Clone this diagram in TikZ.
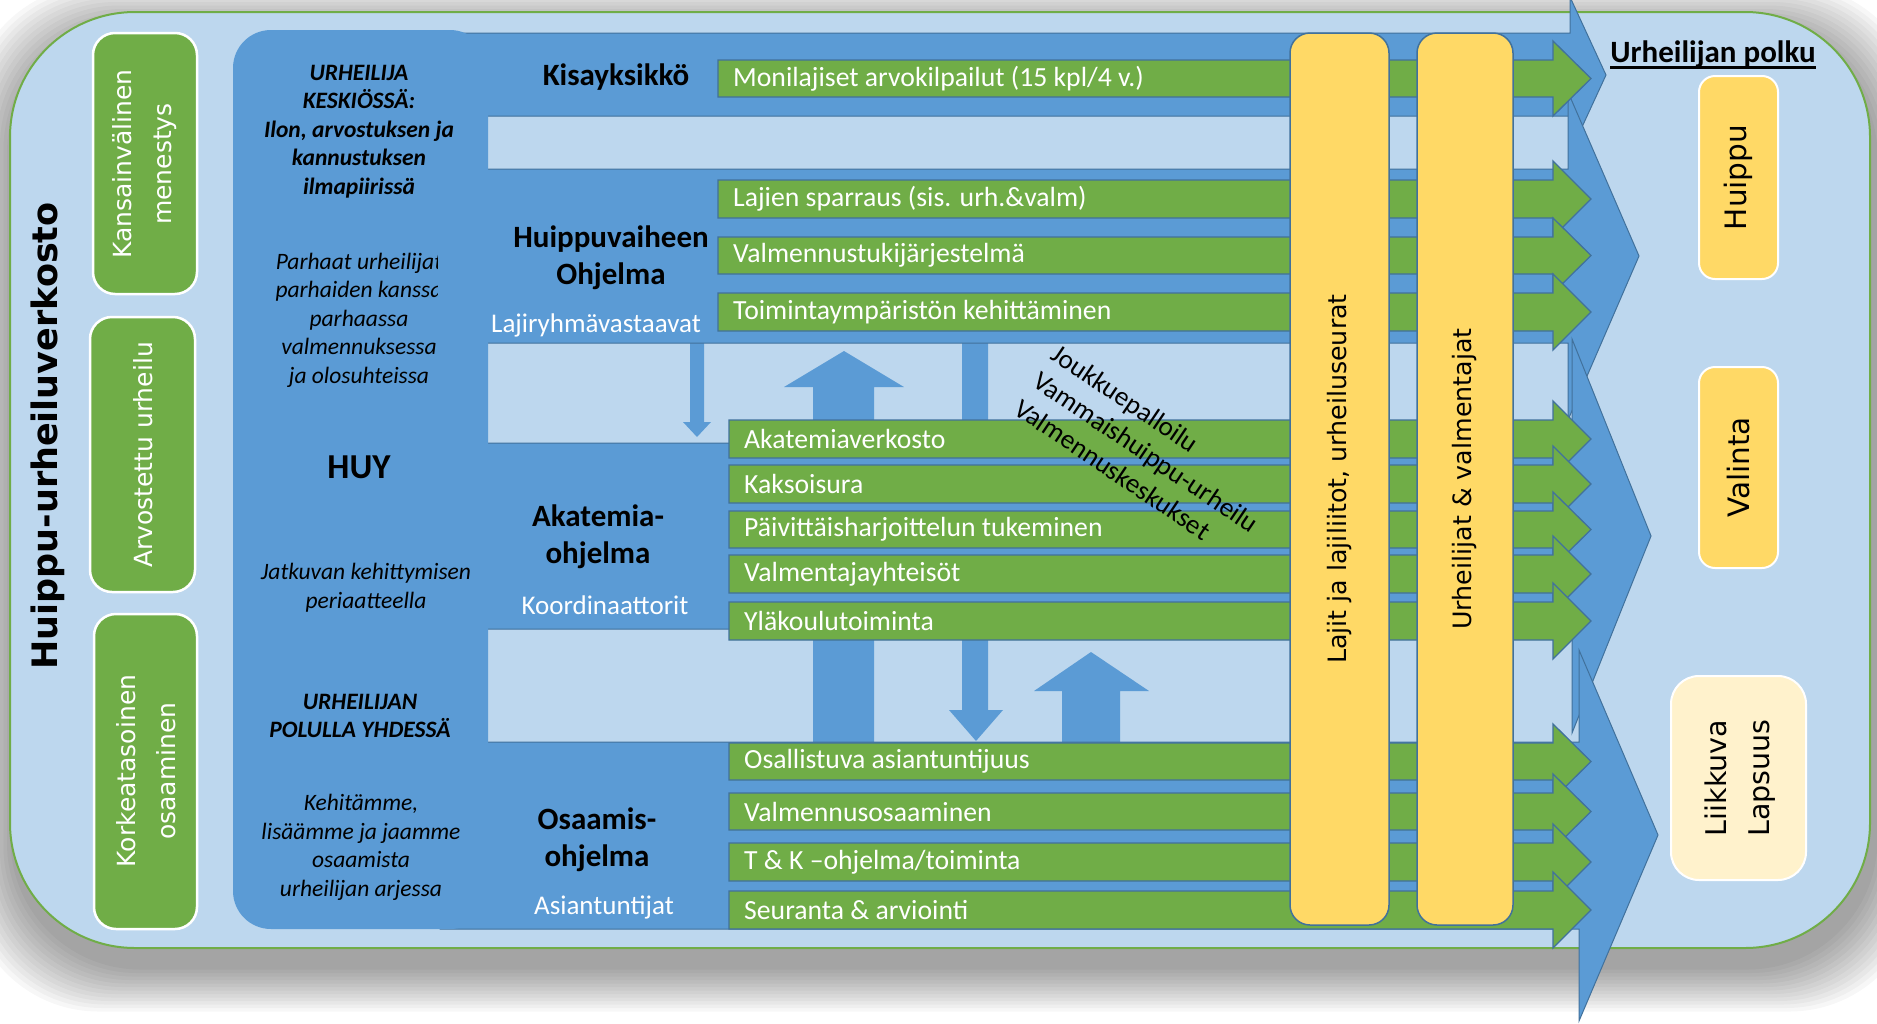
\documentclass[tikz,border=0pt]{standalone}
\usepackage{fontspec}
\setmainfont{Carlito}
\newfontfamily\dejavu{DejaVu Sans}
\usetikzlibrary{calc}
\definecolor{lightbg}{HTML}{BDD7EE}
\definecolor{dblue}{HTML}{5B9BD5}
\definecolor{bline}{HTML}{41719C}
\definecolor{grn}{HTML}{70AD47}
\definecolor{ylw}{HTML}{FFD966}
\definecolor{lylw}{HTML}{FFF2CC}
\newcommand\grar[5]{%
  \draw[greenbar] (#2,#3) -- (1553,#3) -- (1553,{#3-19}) -- (1591,{(#3+#4)/2}) -- (1553,{#4+19}) -- (1553,#4) -- (#2,#4) -- cycle;
  \node[bartext] (#1) at ({#2+15},{(#3+#4)/2}) {#5};
}
\begin{document}
\begin{tikzpicture}[x=1pt,y=-1pt,
  shadowlayer/.style={fill=black,opacity=0.03},
  bigarr/.style={fill=dblue,draw=bline,line width=1pt,line join=miter},
  connarr/.style={fill=dblue},
  greenbar/.style={fill=grn,draw=bline,line width=1.3pt},
  bartext/.style={anchor=west,text=white,inner sep=0pt,font=\fontsize{27.7}{32}\selectfont},
  gbox/.style={fill=grn,draw=white,line width=2.5pt,rounded corners=22pt},
  gtext/.style={text=white,rotate=90,align=center,font=\dejavu\fontsize{25}{40}\selectfont},
  ybox/.style={fill=ylw,draw=bline,line width=1.5pt,rounded corners=20pt},
  ytext/.style={rotate=90,font=\dejavu\fontsize{25.3}{30}\selectfont},
  pbox/.style={draw=white,line width=2pt,rounded corners=16pt},
  ptext/.style={rotate=90,align=center,font=\dejavu\fontsize{29.5}{43}\selectfont},
  huytext/.style={align=center,font=\fontsize{23.5}{28.5}\selectfont\itshape},
  huybold/.style={align=center,font=\fontsize{23.5}{28.5}\selectfont\bfseries\itshape},
  progtext/.style={align=center,font=\fontsize{31}{37}\selectfont\bfseries},
  roletext/.style={text=white,font=\fontsize{27}{30}\selectfont},
]
\useasboundingbox (0,0) rectangle (1877,1023);
\fill[white] (0,0) rectangle (1877,1023);

% shadow
\foreach \k in {1,...,13}{
  \fill[shadowlayer,rounded corners=130pt] ({14-3.5*\k},{30-3.5*\k}) rectangle ({1874+3.5*\k},{966+3.5*\k});
}

% outer frame
\draw[fill=lightbg,draw=grn,line width=2pt,rounded corners=125pt] (10,12) rectangle (1870,948);

% left green boxes
\draw[gbox] (93,33) rectangle (197,294);
\draw[gbox] (90,317) rectangle (195,592);
\draw[gbox] (94,614) rectangle (197,929);
\node[gtext] (kv) at (145,164) {Kansainvälinen\\menestys};
\node[gtext] (au) at (143,455) {Arvostettu urheilu};
\node[gtext] (ko) at (146,771) {Korkeatasoinen\\osaaminen};
\node[rotate=90,font=\dejavu\bfseries\fontsize{35}{40}\selectfont] (verkosto) at (48,436) {Huippu-urheiluverkosto};

% connecting vertical arrows
\fill[connarr] (690,340) -- (704,340) -- (704,422) -- (711,422) -- (697,437) -- (683,422) -- (690,422) -- cycle;
\fill[connarr] (813,745) -- (813,387) -- (784,387) -- (844,351) -- (904,387) -- (874,387) -- (874,745) -- cycle;
\fill[connarr] (962,340) -- (988,340) -- (988,710) -- (1003,710) -- (976,741) -- (949,710) -- (962,710) -- cycle;
\fill[connarr] (1062,745) -- (1062,691) -- (1034,691) -- (1091,652) -- (1149,691) -- (1120,691) -- (1120,745) -- cycle;

% big program arrows
\draw[bigarr] (440,33) -- (1570,33) -- (1570,-3) -- (1606,75) -- (1570,153) -- (1570,116) -- (440,116) -- cycle;
\draw[bigarr] (486,169) -- (1568,169) -- (1568,92) -- (1639,256) -- (1568,420) -- (1568,343) -- (486,343) -- cycle;
\draw[bigarr] (486,443) -- (1572,443) -- (1572,339) -- (1651,536) -- (1572,733) -- (1572,629) -- (486,629) -- cycle;
\draw[bigarr] (440,742) -- (1579,742) -- (1579,650) -- (1658,835) -- (1579,1021) -- (1579,929) -- (440,929) -- cycle;

% HUY panel
\fill[dblue,rounded corners=38pt] (233,30) rectangle (488,929);

% green arrows
\grar{b1}{718}{60}{97}{Monilajiset arvokilpailut (15 kpl/4 v.)}
\grar{b2}{718}{180}{218}{Lajien sparraus (sis. urh.\&valm)}
\grar{b3}{718}{237}{274}{Valmennustukijärjestelmä}
\grar{b4}{718}{293}{331}{Toimintaympäristön kehittäminen}
\grar{b5}{729}{420}{458}{Akatemiaverkosto}
\grar{b6}{729}{465}{503}{Kaksoisura}
\grar{b7}{729}{511}{548}{Päivittäisharjoittelun tukeminen}
\grar{b8}{729}{555}{593}{Valmentajayhteisöt}
\grar{b9}{729}{602}{640}{Yläkoulutoiminta}
\grar{b10}{729}{743}{780}{Osallistuva asiantuntijuus}
\grar{b11}{729}{793}{830}{Valmennusosaaminen}
\grar{b12}{729}{843}{881}{T \& K –ohjelma/toiminta}
\grar{b13}{729}{891}{929}{Seuranta \& arviointi}

% yellow vertical boxes
\draw[ybox] (1290,33) rectangle (1389,925);
\draw[ybox] (1417,33) rectangle (1513,925);
\node[ytext] (lajit) at (1339.5,479) {Lajit ja lajiliitot, urheiluseurat};
\node[ytext] (urhval) at (1465,479) {Urheilijat \& valmentajat};

% diagonal text
\node[rotate=-34,align=left,font=\fontsize{27.2}{33}\selectfont] (diag) at (1146,452) {Joukkuepalloilu\\Vammaishuippu-urheilu\\Valmennuskeskukset};

% HUY panel texts
\node[huybold] (keskio) at (359,131.5) {URHEILIJA\\KESKIÖSSÄ:\\Ilon, arvostuksen ja\\kannustuksen\\ilmapiirissä};
\begin{scope}
  \clip (233,240) rectangle (437,400);
  \node[huytext] (parhaat) at (359,320) {Parhaat urheilijat\\parhaiden kanssa\\parhaassa\\valmennuksessa\\ja olosuhteissa};
\end{scope}
\node[font=\fontsize{35}{40}\selectfont\bfseries] (huy) at (359,467) {HUY};
\node[huytext] (jatkuva) at (366,587.5) {Jatkuvan kehittymisen\\periaatteella};
\node[huybold] (polulla) at (360,716) {URHEILIJAN\\POLULLA YHDESSÄ};
\node[huytext] (kehitamme) at (361,847.5) {Kehitämme,\\lisäämme ja jaamme\\osaamista\\urheilijan arjessa};

% program labels
\node[progtext] (kisa) at (616,77) {Kisayksikkö};
\node[progtext] (huippuohj) at (611,258) {Huippuvaiheen\\Ohjelma};
\node[roletext] (lajiryhma) at (596,325) {Lajiryhmävastaavat};
\node[progtext] (akatemia) at (598,536.5) {Akatemia-\\ohjelma};
\node[roletext] (koord) at (605,605) {Koordinaattorit};
\node[progtext] (osaamis) at (597,840) {Osaamis-\\ohjelma};
\node[roletext] (asiant) at (604,907) {Asiantuntijat};

% right side: athlete path
\node[font=\fontsize{31}{36}\selectfont\bfseries,inner sep=0pt] (polku) at (1713,54) {Urheilijan polku};
\draw[line width=2.5pt] ($(polku.base west)+(0,5)$) -- ($(polku.base east)+(0,5)$);
\draw[pbox,fill=ylw] (1699,76) rectangle (1778,279);
\node[ptext] (huippu) at (1738.5,177.5) {Huippu};
\draw[pbox,fill=ylw] (1699,367) rectangle (1778,568);
\node[ptext] (valinta) at (1738.5,467.5) {Valinta};
\draw[pbox,fill=lylw,rounded corners=28pt] (1671,676) rectangle (1806,880);
\node[ptext,font=\dejavu\fontsize{28.5}{43}\selectfont] (liikkuva) at (1740,778) {Liikkuva\\Lapsuus};
\end{tikzpicture}
\end{document}
